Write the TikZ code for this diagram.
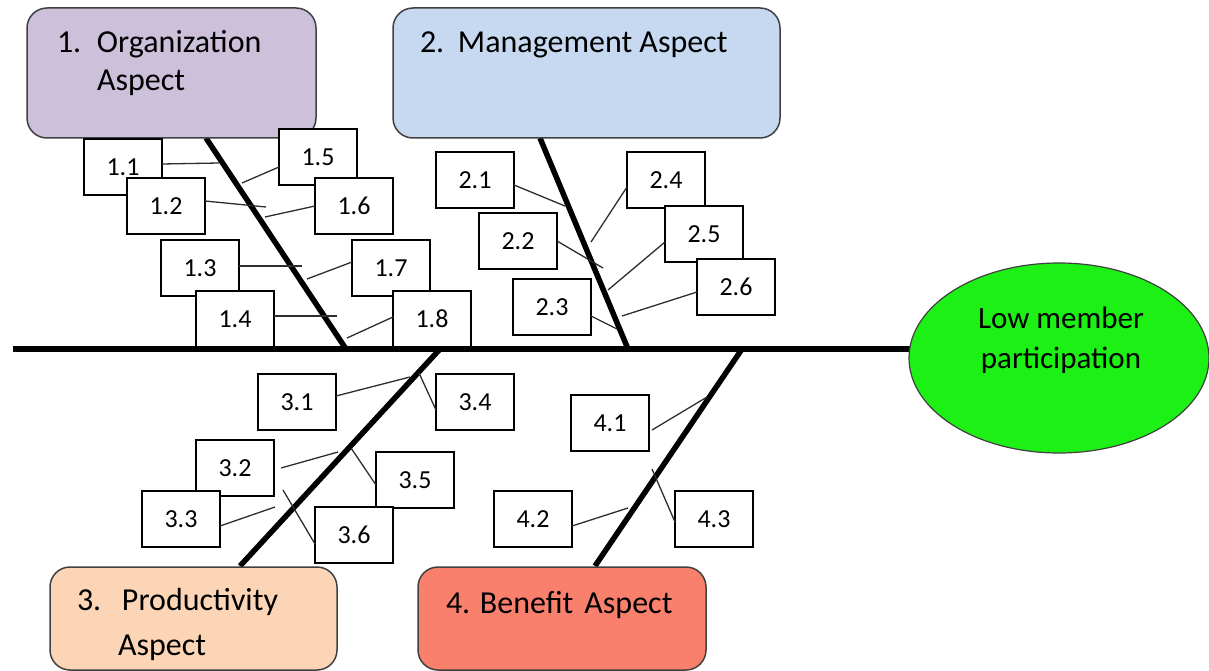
\documentclass[tikz,border=0pt]{standalone}
\usepackage{fontspec}
\setmainfont{Carlito}
\usetikzlibrary{shapes.geometric}
\definecolor{orgfill}{RGB}{204,192,218}
\definecolor{manfill}{RGB}{198,217,241}
\definecolor{profill}{RGB}{251,213,181}
\definecolor{benfill}{RGB}{250,128,110}
\definecolor{efffill}{RGB}{28,240,20}
\definecolor{boxline}{RGB}{64,64,64}
\definecolor{twigline}{RGB}{45,45,45}
\begin{document}
\begin{tikzpicture}[x=1pt,y=-1pt]
\tikzstyle{every node}+=[inner sep=0pt,outer sep=0pt]
\tikzstyle{aspectbox}=[draw=boxline,line width=1.5pt,rounded corners=20pt,rectangle]
\tikzstyle{cause}=[draw=black,fill=white,line width=1.4pt,minimum width=78pt,minimum height=56pt,font=\fontsize{26}{26}\selectfont]
\tikzstyle{bone}=[line width=5.5pt]
\tikzstyle{twig}=[draw=twigline,line width=1.3pt]
\tikzstyle{headtext}=[anchor=base west,font=\fontsize{32}{32}\selectfont]
\useasboundingbox (0,0) rectangle (1209,671);
\coordinate (tail) at (13,349);
\coordinate (head) at (1000,349);
\coordinate (b1a) at (206,138);
\coordinate (b1b) at (346,349);
\coordinate (b2a) at (540,138);
\coordinate (b2b) at (628,349);
\coordinate (b3a) at (440,349);
\coordinate (b3b) at (240,566);
\coordinate (b4a) at (742,349);
\coordinate (b4b) at (595,566);
\draw [bone] (b1a) -- (b1b);
\draw [bone] (b2a) -- (b2b);
\draw [bone] (b3a) -- (b3b);
\draw [bone] (b4a) -- (b4b);
\node [aspectbox,fill=orgfill,minimum width=289pt,minimum height=130pt] (org) at (171.5,73) {};
\node [aspectbox,fill=manfill,minimum width=387pt,minimum height=130pt] (man) at (586.5,73) {};
\node [aspectbox,fill=profill,minimum width=287pt,minimum height=103pt] (pro) at (193.5,618.5) {};
\node [aspectbox,fill=benfill,minimum width=288pt,minimum height=103pt] (ben) at (562,618.5) {};
\node [headtext] (org1) at (57,53) {\makebox[40pt][l]{1.}Organization};
\node [headtext] (org2) at (97,91) {Aspect};
\node [headtext] (man1) at (420,53) {\makebox[38pt][l]{2.}Management Aspect};
\node [headtext] (pro1) at (77,610) {\makebox[45pt][l]{3.}Productivity};
\node [headtext] (pro2) at (118,655) {Aspect};
\node [headtext] (ben1) at (446,613) {\makebox[34pt][l]{4.}Benefit\hspace{11pt}Aspect};
\node [cause] (c11) at (123,167) {1.1};
\node [cause] (c12) at (166,206) {1.2};
\node [cause] (c15) at (318,157) {1.5};
\node [cause] (c16) at (354,206) {1.6};
\node [cause] (c13) at (200,268) {1.3};
\node [cause] (c14) at (235,319) {1.4};
\node [cause] (c17) at (391,268) {1.7};
\node [cause] (c18) at (432,319) {1.8};
\node [cause] (c21) at (475,180) {2.1};
\node [cause] (c22) at (518,241) {2.2};
\node [cause] (c23) at (552,307) {2.3};
\node [cause] (c24) at (666,180) {2.4};
\node [cause] (c25) at (704,234) {2.5};
\node [cause] (c26) at (736,287) {2.6};
\node [cause] (c31) at (297,402) {3.1};
\node [cause] (c34) at (475,402) {3.4};
\node [cause] (c32) at (235,468) {3.2};
\node [cause] (c33) at (181,519) {3.3};
\node [cause] (c35) at (415,480) {3.5};
\node [cause] (c36) at (354,535) {3.6};
\node [cause] (c41) at (610,423) {4.1};
\node [cause] (c42) at (533,519) {4.2};
\node [cause] (c43) at (714,519) {4.3};
\coordinate (t11) at (219,163);
\coordinate (t12) at (266,207);
\coordinate (t15) at (242,183);
\coordinate (t16) at (265,217);
\coordinate (t13) at (302,266);
\coordinate (t17) at (307,279);
\coordinate (t14) at (337,316);
\coordinate (t18) at (347,338);
\coordinate (t21) at (565,206);
\coordinate (t22) at (603,268);
\coordinate (t23) at (617,329);
\coordinate (t24) at (591,242);
\coordinate (t25) at (608,290);
\coordinate (t26) at (622,316);
\coordinate (t31) at (410,377);
\coordinate (t34) at (419,373);
\coordinate (t32) at (338,452);
\coordinate (t35) at (351,448);
\coordinate (t33) at (275,507);
\coordinate (t36) at (283,490);
\coordinate (t41) at (707,397);
\coordinate (t42) at (628,508);
\coordinate (t43) at (652,469);
\draw [twig] ([yshift=3pt]c11.east) -- (t11);
\draw [twig] ([yshift=5pt]c12.east) -- (t12);
\draw [twig] ([yshift=-10pt]c15.west) -- (t15);
\draw [twig] (c16.west) -- (t16);
\draw [twig] ([yshift=2pt]c13.east) -- (t13);
\draw [twig] ([yshift=6pt]c17.west) -- (t17);
\draw [twig] ([yshift=3pt]c14.east) -- (t14);
\draw [twig] ([yshift=2pt]c18.west) -- (t18);
\draw [twig] ([yshift=-5pt]c21.east) -- (t21);
\draw [twig] (c22.east) -- (t22);
\draw [twig] ([yshift=-9pt]c23.east) -- (t23);
\draw [twig] ([yshift=-7pt]c24.west) -- (t24);
\draw [twig] ([yshift=-8pt]c25.west) -- (t25);
\draw [twig] ([yshift=-5pt]c26.west) -- (t26);
\draw [twig] ([yshift=6pt]c31.east) -- (t31);
\draw [twig] ([yshift=-8pt]c34.west) -- (t34);
\draw [twig] ([xshift=7pt]c32.east) -- (t32);
\draw [twig] ([yshift=-5pt]c35.west) -- (t35);
\draw [twig] ([yshift=-7pt]c33.east) -- (t33);
\draw [twig] ([yshift=-9pt]c36.west) -- (t36);
\draw [twig] ([xshift=3pt,yshift=-7pt]c41.east) -- (t41);
\draw [twig] ([yshift=-7pt]c42.east) -- (t42);
\draw [twig] ([yshift=-3pt]c43.west) -- (t43);
\draw [bone] (tail) -- (head);
\node [ellipse,draw=boxline,line width=1.2pt,fill=efffill,minimum width=300pt,minimum height=190pt] (eff) at (1059,358) {};
\node [align=center,font=\fontsize{31}{40}\selectfont] (efftext) at (1061,340) {Low member\\participation};
\end{tikzpicture}
\end{document}
